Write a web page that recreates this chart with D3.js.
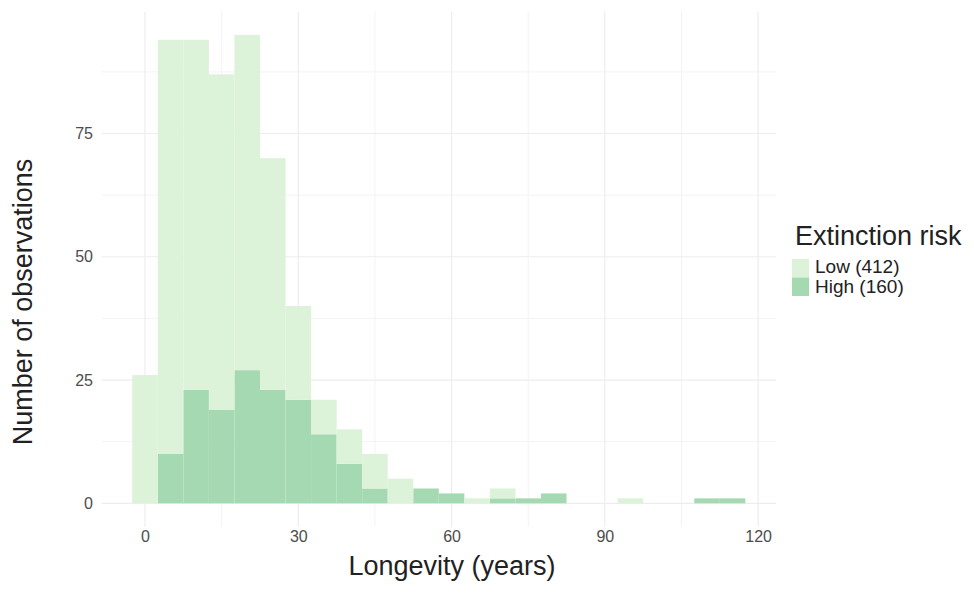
<!DOCTYPE html>
<html>
<head>
<meta charset="utf-8">
<script src="https://cdn.jsdelivr.net/npm/d3@7"></script>
<style>
  html, body { margin: 0; padding: 0; background: #fff; }
  svg { display: block; font-family: "Liberation Sans", Arial, sans-serif; }
</style>
</head>
<body>
<svg id="chart" width="974" height="594"></svg>
<script>
// ---- data ----
const binCenters = [0, 5, 10, 15, 20, 25, 30, 35, 40, 45, 50, 55, 60, 65, 70, 75, 80, 85, 90, 95, 100, 105, 110, 115];
const highCounts = [0, 10, 23, 19, 27, 23, 21, 14, 8, 3, 0, 3, 2, 0, 1, 1, 2, 0, 0, 0, 0, 0, 1, 1];
const lowCounts  = [26, 84, 71, 68, 68, 47, 19, 7, 7, 7, 5, 0, 0, 1, 2, 0, 0, 0, 0, 1, 0, 0, 0, 0];
const binWidth = 5;
const seriesNames = ["Low", "High"];
const seriesTotals = [412, 160];
const xTicks = [0, 30, 60, 90, 120];
const xMinorTicks = [15, 45, 75, 105];
const yTicks = [0, 25, 50, 75];
const yMinorTicks = [12.5, 37.5, 62.5, 87.5];

const colors = { Low: "#dcf2d9", High: "#a5d9b1" };

const svg = d3.select("#chart");
const x = d3.scaleLinear().domain([-8.5, 123.5]).range([101.6, 776]);
const y = d3.scaleLinear().domain([-4.75, 99.75]).range([526.7, 11.5]);

const [x0, x1] = x.range();
const [yb, yt] = y.range();

// grid
const grid = svg.append("g");
grid.selectAll(".vminor").data(xMinorTicks).join("line")
  .attr("x1", d => x(d)).attr("x2", d => x(d)).attr("y1", yt).attr("y2", yb)
  .attr("stroke", "#f3f3f5").attr("stroke-width", 1);
grid.selectAll(".hminor").data(yMinorTicks).join("line")
  .attr("y1", d => y(d)).attr("y2", d => y(d)).attr("x1", x0).attr("x2", x1)
  .attr("stroke", "#f3f3f5").attr("stroke-width", 1);
grid.selectAll(".vmajor").data(xTicks).join("line")
  .attr("x1", d => x(d)).attr("x2", d => x(d)).attr("y1", yt).attr("y2", yb)
  .attr("stroke", "#ededf0").attr("stroke-width", 1.2);
grid.selectAll(".hmajor").data(yTicks).join("line")
  .attr("y1", d => y(d)).attr("y2", d => y(d)).attr("x1", x0).attr("x2", x1)
  .attr("stroke", "#ededf0").attr("stroke-width", 1.2);

// stacked bars: High at bottom, Low on top
const rows = binCenters.map((c, i) => ({ center: c, High: highCounts[i], Low: lowCounts[i] }));
const stack = d3.stack().keys(["High", "Low"])(rows);
svg.append("g").selectAll("g").data(stack).join("g")
  .attr("fill", d => colors[d.key])
  .selectAll("rect").data(d => d.filter(s => s[1] - s[0] > 0)).join("rect")
  .attr("x", d => x(d.data.center - binWidth / 2))
  .attr("width", d => x(d.data.center + binWidth / 2) - x(d.data.center - binWidth / 2))
  .attr("y", d => y(d[1]))
  .attr("height", d => y(d[0]) - y(d[1]));

// axes (labels only)
const xAxis = svg.append("g").attr("transform", `translate(0,${528})`)
  .call(d3.axisBottom(x).tickValues(xTicks).tickSize(0).tickPadding(3));
xAxis.select(".domain").remove();
xAxis.selectAll("text").attr("font-size", 16).attr("fill", "#4d4d4d")
  .attr("font-family", "Liberation Sans, Arial, sans-serif");

const yAxis = svg.append("g").attr("transform", `translate(${93},0)`)
  .call(d3.axisLeft(y).tickValues(yTicks).tickSize(0).tickPadding(0));
yAxis.select(".domain").remove();
yAxis.selectAll("text").attr("font-size", 16).attr("fill", "#4d4d4d")
  .attr("font-family", "Liberation Sans, Arial, sans-serif");

// axis titles
svg.append("text").attr("x", 452).attr("y", 575).attr("text-anchor", "middle")
  .attr("font-size", 27).attr("fill", "#222").text("Longevity (years)");
svg.append("text").attr("transform", `translate(32,302) rotate(-90)`).attr("text-anchor", "middle")
  .attr("font-size", 27).attr("fill", "#222").text("Number of observations");

// legend
const lg = svg.append("g");
lg.append("text").attr("x", 795).attr("y", 245).attr("font-size", 27).attr("fill", "#222").text("Extinction risk");
seriesNames.forEach((name, i) => {
  lg.append("rect").attr("x", 792).attr("y", 259 + i * 18.5).attr("width", 17).attr("height", 18.5)
    .attr("fill", colors[name]);
  lg.append("text").attr("x", 815).attr("y", 273 + i * 19.5).attr("font-size", 19).attr("fill", "#222")
    .text(`${name} (${seriesTotals[i]})`);
});
</script>
</body>
</html>
